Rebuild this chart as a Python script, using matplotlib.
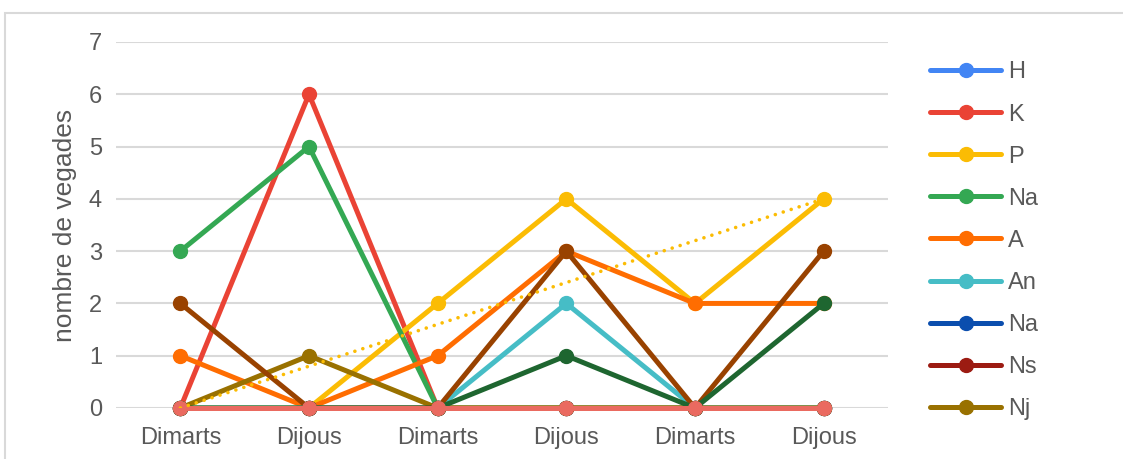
import matplotlib
matplotlib.use("Agg")
import matplotlib.pyplot as plt
import numpy as np
from matplotlib.patches import Rectangle

plt.rcParams["font.family"] = ["Liberation Sans", "DejaVu Sans"]

categories = ["Dimarts", "Dijous", "Dimarts", "Dijous", "Dimarts", "Dijous"]

# series in drawing order (the last three are not shown in the legend)
names = ["H", "K", "P", "Na", "A", "An", "Na", "Ns", "Nj", "S10", "S11", "S12"]
values = [
    [0, 0, 0, 0, 0, 0],   # H
    [0, 6, 0, 0, 0, 0],   # K
    [0, 0, 2, 4, 2, 4],   # P
    [3, 5, 0, 0, 0, 0],   # Na
    [1, 0, 1, 3, 2, 2],   # A
    [0, 0, 0, 2, 0, 0],   # An
    [0, 0, 0, 0, 0, 0],   # Na
    [0, 0, 0, 0, 0, 0],   # Ns
    [0, 1, 0, 0, 0, 0],   # Nj
    [2, 0, 0, 3, 0, 3],   # brown
    [0, 0, 0, 1, 0, 2],   # dark green
    [0, 0, 0, 0, 0, 0],   # salmon
]
colors = ["#4285F4", "#EA4335", "#FBBC04", "#34A853", "#FF6D01", "#46BDC6",
          "#0B4EAE", "#9C1B12", "#997100", "#994200", "#1E6630", "#EA6A60"]
n_legend = 9

fig = plt.figure(figsize=(11.23, 4.59), dpi=100)
W, H = 1123, 459
ax = fig.add_axes([116 / W, (H - 408) / H, 772 / W, 366 / H])

# outer chart border
fig.patches.append(Rectangle((5 / W, -0.1), 1.2, (H - 13) / H + 0.1,
                             transform=fig.transFigure, fill=False,
                             edgecolor="#d9d9d9", lw=1.5))

x = np.arange(len(categories))
handles = []
for name, vals, c in zip(names, values, colors):
    h, = ax.plot(x, vals, "-o", color=c, lw=3.6, ms=10, label=name,
                 solid_capstyle="round", clip_on=False, zorder=3)
    handles.append(h)

# linear trendline of P
p = np.polyfit(x, values[2], 1)
ax.plot(x, np.polyval(p, x), color="#FBBC04", lw=2.6, zorder=4,
        dashes=(0.01, 2.3), dash_capstyle="round")

ax.set_xlim(-0.5, 5.5)
ax.set_ylim(0, 7)
ax.set_yticks(range(8))
ax.set_xticks(x)
ax.set_xticklabels(categories)
ax.grid(axis="y", color="#d9d9d9", lw=1.5, zorder=0)
ax.set_axisbelow(True)
for s in ax.spines.values():
    s.set_visible(False)
ax.tick_params(length=0, labelsize=17, labelcolor="#595959")
ax.tick_params(axis="y", pad=10)
ax.tick_params(axis="x", pad=14)
ax.set_ylabel("nombre de vegades", fontsize=19, color="#595959")
ax.yaxis.set_label_coords(-0.05, 0.5)

leg = fig.legend(handles[:n_legend], names[:n_legend], loc="upper left",
                 bbox_to_anchor=(921 / W, (H - 52) / H), frameon=False,
                 fontsize=17, labelcolor="#595959", handlelength=3.0,
                 handletextpad=0.3, labelspacing=0.85, borderaxespad=0)

fig.savefig("out.png", dpi=100)
